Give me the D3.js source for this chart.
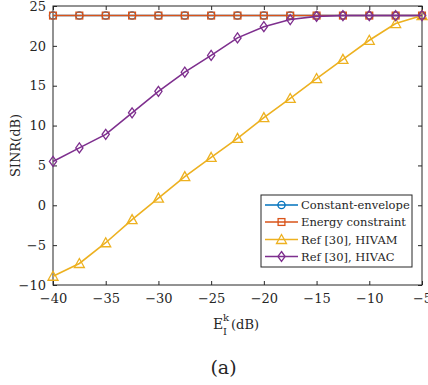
<!DOCTYPE html>
<html>
<head>
<meta charset="utf-8">
<script src="https://cdn.jsdelivr.net/npm/d3@7"></script>
<style>
  html, body { margin: 0; padding: 0; background: #fff; }
  svg { display: block; }
</style>
</head>
<body>
<svg id="chart" width="428" height="385"></svg>
<script>
// Interference energy levels (dB)
const xValues = [-40, -37.5, -35, -32.5, -30, -27.5, -25, -22.5, -20, -17.5, -15, -12.5, -10, -7.5, -5];
// SINR (dB) for each scheme
const constantEnvelope = [23.8, 23.8, 23.8, 23.8, 23.8, 23.8, 23.8, 23.8, 23.8, 23.8, 23.8, 23.8, 23.8, 23.8, 23.8];
const energyConstraint = [23.8, 23.8, 23.8, 23.8, 23.8, 23.8, 23.8, 23.8, 23.8, 23.8, 23.8, 23.8, 23.8, 23.8, 23.8];
const hivam = [-8.9, -7.3, -4.7, -1.8, 0.9, 3.6, 6.0, 8.4, 11.0, 13.4, 15.9, 18.3, 20.7, 22.8, 23.8];
const hivac = [5.5, 7.2, 8.9, 11.6, 14.3, 16.7, 18.8, 21.0, 22.4, 23.3, 23.7, 23.8, 23.8, 23.8, 23.8];

const xTicks = [-40, -35, -30, -25, -20, -15, -10, -5];
const yTicks = [-10, -5, 0, 5, 10, 15, 20, 25];
const seriesNames = ["Constant-envelope", "Energy constraint", "Ref [30], HIVAM", "Ref [30], HIVAC"];

const series = [
  { name: seriesNames[0], values: constantEnvelope, color: "#0072BD", marker: "circle" },
  { name: seriesNames[1], values: energyConstraint, color: "#D95319", marker: "square" },
  { name: seriesNames[2], values: hivam, color: "#EDB120", marker: "triangle" },
  { name: seriesNames[3], values: hivac, color: "#7E2F8E", marker: "diamond" }
];

const FONT = "DejaVu Serif";
const svg = d3.select("#chart");
const plotLeft = 53, plotRight = 422, plotTop = 6, plotBottom = 285;
const axisColor = "#262626";

const x = d3.scaleLinear().domain([-40, -5]).range([plotLeft, plotRight]);
const y = d3.scaleLinear().domain([-10, 25]).range([plotBottom, plotTop]);

// Axes with inward ticks on all four sides
const tickLen = 4;
svg.append("g").attr("transform", `translate(0,${plotBottom})`)
  .call(d3.axisBottom(x).tickValues(xTicks).tickSizeInner(-tickLen).tickSizeOuter(0).tickPadding(9).tickFormat(d3.format("d")))
  .call(g => g.select(".domain").remove());
svg.append("g").attr("transform", `translate(0,${plotTop})`)
  .call(d3.axisTop(x).tickValues(xTicks).tickSizeInner(-tickLen).tickSizeOuter(0).tickFormat(""))
  .call(g => g.select(".domain").remove());
svg.append("g").attr("transform", `translate(${plotLeft},0)`)
  .call(d3.axisLeft(y).tickValues(yTicks).tickSizeInner(-tickLen).tickSizeOuter(0).tickPadding(7).tickFormat(d3.format("d")))
  .call(g => g.select(".domain").remove());
svg.append("g").attr("transform", `translate(${plotRight},0)`)
  .call(d3.axisRight(y).tickValues(yTicks).tickSizeInner(-tickLen).tickSizeOuter(0).tickFormat(""))
  .call(g => g.select(".domain").remove());

svg.selectAll("g").attr("font-family", FONT);
svg.selectAll(".tick line").attr("stroke", axisColor).attr("stroke-width", 1);
svg.selectAll(".tick text").attr("font-family", FONT).attr("font-size", 13).attr("fill", axisColor);

// Plot frame
svg.append("rect").attr("x", plotLeft).attr("y", plotTop).attr("width", plotRight - plotLeft).attr("height", plotBottom - plotTop)
  .attr("fill", "none").attr("stroke", axisColor).attr("stroke-width", 1);

// Marker drawing
function drawMarker(g, type, cx, cy, color) {
  if (type === "circle") {
    g.append("circle").attr("cx", cx).attr("cy", cy).attr("r", 3.6)
      .attr("fill", "none").attr("stroke", color).attr("stroke-width", 1.3);
  } else if (type === "square") {
    g.append("rect").attr("x", cx - 3.4).attr("y", cy - 3.4).attr("width", 6.8).attr("height", 6.8)
      .attr("fill", "none").attr("stroke", color).attr("stroke-width", 1.3);
  } else if (type === "triangle") {
    const s = 5;
    g.append("path").attr("d", `M${cx},${cy - s} L${cx + s},${cy + s * 0.8} L${cx - s},${cy + s * 0.8} Z`)
      .attr("fill", "none").attr("stroke", color).attr("stroke-width", 1.3);
  } else if (type === "diamond") {
    g.append("path").attr("d", `M${cx},${cy - 5} L${cx + 3.6},${cy} L${cx},${cy + 5} L${cx - 3.6},${cy} Z`)
      .attr("fill", "none").attr("stroke", color).attr("stroke-width", 1.3);
  }
}

const line = d3.line().x(d => x(d[0])).y(d => y(d[1]));
const plot = svg.append("g");
series.forEach(s => {
  const pts = xValues.map((xv, i) => [xv, s.values[i]]);
  plot.append("path").datum(pts).attr("d", line)
    .attr("fill", "none").attr("stroke", s.color).attr("stroke-width", 1.6);
  pts.forEach(p => drawMarker(plot, s.marker, x(p[0]), y(p[1]), s.color));
});

function label(xp, yp, size, str, anchor) {
  return svg.append("text").attr("x", xp).attr("y", yp)
    .attr("font-family", FONT).attr("font-size", size).attr("fill", axisColor)
    .attr("text-anchor", anchor || "start").text(str);
}

// Legend
const lg = svg.append("g");
const lx = 261, ly = 195, lw = 151, lh = 72;
lg.append("rect").attr("x", lx).attr("y", ly).attr("width", lw).attr("height", lh)
  .attr("fill", "#fff").attr("stroke", axisColor).attr("stroke-width", 1);
const rowY = [205, 222, 239.5, 256.5];
series.forEach((s, i) => {
  lg.append("line").attr("x1", lx + 4).attr("x2", lx + 37).attr("y1", rowY[i]).attr("y2", rowY[i])
    .attr("stroke", s.color).attr("stroke-width", 1.6);
  drawMarker(lg, s.marker, lx + 20.5, rowY[i], s.color);
  lg.append("text").attr("x", lx + 40).attr("y", rowY[i]).attr("dy", "0.35em")
    .attr("font-family", FONT).attr("font-size", 11.5).attr("fill", axisColor).text(s.name);
});

// Axis labels
svg.append("text").attr("transform", `translate(20,${(plotTop + plotBottom) / 2}) rotate(-90)`)
  .attr("text-anchor", "middle").attr("font-family", FONT).attr("font-size", 13).attr("fill", axisColor).text("SINR(dB)");

// x label: E with superscript k and subscript I, followed by (dB)
label(213, 329, 14, "E");
label(223, 321, 10, "k");
label(223, 335, 10, "I");
label(231, 329, 13, "(dB)");

label(223.5, 374, 19, "(a)", "middle");
</script>
</body>
</html>
